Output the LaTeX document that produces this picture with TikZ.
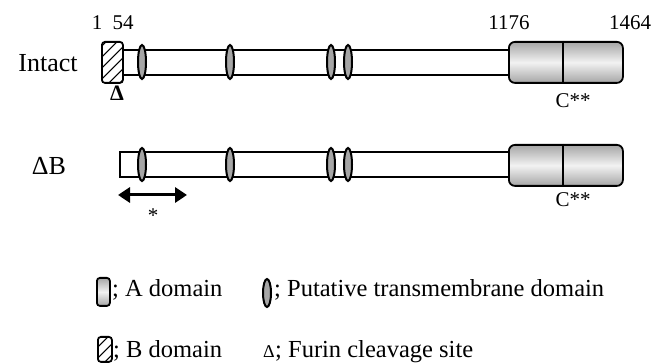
\documentclass[tikz,border=0pt]{standalone}
\usepackage{fontspec}
\setmainfont{Liberation Serif}
\usetikzlibrary{arrows.meta,shapes.geometric}
\begin{document}
\begin{tikzpicture}[x=1pt,y=-1pt,
  lw/.style={line width=1.8pt},
  bar/.style={draw, lw, fill=white, rectangle, inner sep=0pt, minimum height=25pt, anchor=west},
  tm/.style={draw, ellipse, line width=2pt, fill=gray!70, inner sep=0pt, minimum width=8pt, minimum height=34pt},
  adomain/.style={draw, lw, rectangle, rounded corners=6pt, inner sep=0pt,
    top color=gray!70, bottom color=gray!70, middle color=gray!10,
    minimum width=114pt, minimum height=41pt, anchor=north west},
  hatch/.style={path picture={\foreach \i in {-48,-37,...,20}{\draw[line width=1pt] ([xshift=\i pt]path picture bounding box.south west) -- ++(50pt,50pt);}}},
  bdomain/.style={draw, lw, rectangle, rounded corners=3pt, inner sep=0pt, fill=white, hatch,
    minimum width=21pt, minimum height=41pt, anchor=north west},
  num/.style={font=\fontsize{21}{24}\selectfont, anchor=base, inner sep=0pt},
  lab/.style={font=\fontsize{26}{30}\selectfont, anchor=base, inner sep=0pt},
  leg/.style={font=\fontsize{24.5}{28}\selectfont, anchor=base west, inner sep=0pt},
  dbl/.style={line width=3pt, {Triangle[length=12pt,width=15pt]}-{Triangle[length=12pt,width=15pt]}}
]
\useasboundingbox (0,0) rectangle (654,363);

% ---- Intact ----
\node[lab] (intact) at (48,72) {Intact};
\node[bar, minimum width=400pt] (bar1) at (115,62.5) {};
\node[tm] (t11) at (142,62) {};
\node[tm] (t12) at (230,62) {};
\node[tm] (t13) at (331,62) {};
\node[tm] (t14) at (348,62) {};
\node[bdomain] (b1) at (101,41) {};
\node[adomain] (a1) at (508,41) {};
\draw[lw] ([xshift=-3pt]a1.north) -- ([xshift=-3pt]a1.south);
\node[num] (n1) at (97,30) {1};
\node[num] (n54) at (123,30) {54};
\node[num] (n1176) at (509,30) {1176};
\node[num] (n1464) at (630,30) {1464};
\node[font=\fontsize{22}{24}\selectfont\bfseries, anchor=base, inner sep=0pt] (furin) at (117,101) {Δ};
\node[num] (c1) at (573,108) {C**};

% ---- Delta B ----
\node[lab] (db) at (49,175) {ΔB};
\node[bar, minimum width=400pt] (bar2) at (119,164.5) {};
\node[tm, minimum height=33pt] (t21) at (142,164.5) {};
\node[tm, minimum height=33pt] (t22) at (230,164.5) {};
\node[tm, minimum height=33pt] (t23) at (331,164.5) {};
\node[tm, minimum height=33pt] (t24) at (348,164.5) {};
\node[adomain] (a2) at (508,144) {};
\draw[lw] ([xshift=-3pt]a2.north) -- ([xshift=-3pt]a2.south);
\node[num] (c2) at (573,207) {C**};
\coordinate (al) at (118,195);
\coordinate (ar) at (187,195);
\draw[dbl] (al) -- (ar);
\node[num] (star) at (153,223) {*};

% ---- Legend ----
\node[adomain, rounded corners=3pt, minimum width=13pt, minimum height=28pt] (la) at (96,277) {};
\node[leg] (lat) at (112,297) {; A domain};
\node[tm, minimum height=28pt] (lt) at (267,293) {};
\node[leg] (ltt) at (274,297) {; Putative transmembrane domain};
\node[bdomain, minimum width=14pt, minimum height=25pt] (lb) at (97,336) {};
\node[leg] (lbt) at (113,358) {; B domain};
\node[font=\fontsize{18}{20}\selectfont, anchor=base west, inner sep=0pt] (lf) at (263,358) {Δ};
\node[leg] (lft) at (275,358) {; Furin cleavage site};
\end{tikzpicture}
\end{document}
